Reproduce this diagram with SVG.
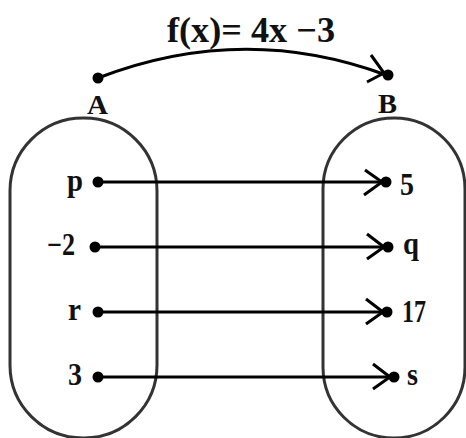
<svg xmlns="http://www.w3.org/2000/svg" width="466" height="438" viewBox="0 0 466 438">
<defs>
<style>
.t{font-family:"Liberation Serif","Times New Roman",serif;font-weight:bold;fill:#111}
.l{font-size:31px}
.set{fill:none;stroke:#333;stroke-width:3}
.c{fill:none;stroke:#000;stroke-width:3.2}
.ah{fill:none;stroke:#000;stroke-width:3}
</style>
</defs>
<rect width="466" height="438" fill="#fff"/>
<g id="title"><text class="t" x="167" y="42" font-size="35" textLength="168" lengthAdjust="spacingAndGlyphs">f(x)= 4x −3</text></g>
<g id="setA">
<rect class="set" x="10" y="118" width="147" height="320" rx="73"/>
<circle cx="98" cy="78" r="5.5"/>
<text class="t" x="87" y="114" font-size="27" textLength="21" lengthAdjust="spacingAndGlyphs">A</text>
</g>
<g id="setB">
<rect class="set" x="323" y="118" width="142" height="320" rx="71"/>
<circle cx="388" cy="75" r="5.5"/>
<text class="t" x="378" y="113" font-size="27" textLength="19" lengthAdjust="spacingAndGlyphs">B</text>
</g>
<g id="p"><circle cx="98" cy="182" r="5.5"/><text class="t l" x="67" y="191" textLength="16" lengthAdjust="spacingAndGlyphs">p</text></g>
<g id="n2"><circle cx="95" cy="247" r="5.5"/><text class="t l" x="47" y="255" textLength="28" lengthAdjust="spacingAndGlyphs">−2</text></g>
<g id="r"><circle cx="98" cy="312" r="5.5"/><text class="t l" x="68" y="320" textLength="13" lengthAdjust="spacingAndGlyphs">r</text></g>
<g id="three"><circle cx="98" cy="377" r="5.5"/><text class="t l" x="68" y="385" textLength="14" lengthAdjust="spacingAndGlyphs">3</text></g>
<g id="five"><circle cx="386" cy="182" r="5.5"/><text class="t l" x="400" y="195" textLength="14" lengthAdjust="spacingAndGlyphs">5</text></g>
<g id="q"><circle cx="388" cy="247" r="5.5"/><text class="t l" x="403" y="254" textLength="16" lengthAdjust="spacingAndGlyphs">q</text></g>
<g id="n17"><circle cx="387" cy="312" r="5.5"/><text class="t l" x="402" y="322" textLength="24" lengthAdjust="spacingAndGlyphs">17</text></g>
<g id="s"><circle cx="394" cy="377" r="5.5"/><text class="t l" x="407" y="385" textLength="11" lengthAdjust="spacingAndGlyphs">s</text></g>
<g id="connectors">
<path class="c" d="M98 78 Q243 22 386 75"/>
<path class="ah" d="M371 55 L384 73 L367 82"/>
<line class="c" x1="98" y1="182" x2="384" y2="182"/>
<path class="ah" d="M365 170 L382 182 L364 195"/>
<line class="c" x1="95" y1="247" x2="386" y2="247"/>
<path class="ah" d="M367 234 L384 247 L367 259"/>
<line class="c" x1="98" y1="312" x2="385" y2="312"/>
<path class="ah" d="M366 299 L383 312 L366 324"/>
<line class="c" x1="98" y1="377" x2="392" y2="377"/>
<path class="ah" d="M373 364 L390 377 L373 389"/>
</g>
</svg>
